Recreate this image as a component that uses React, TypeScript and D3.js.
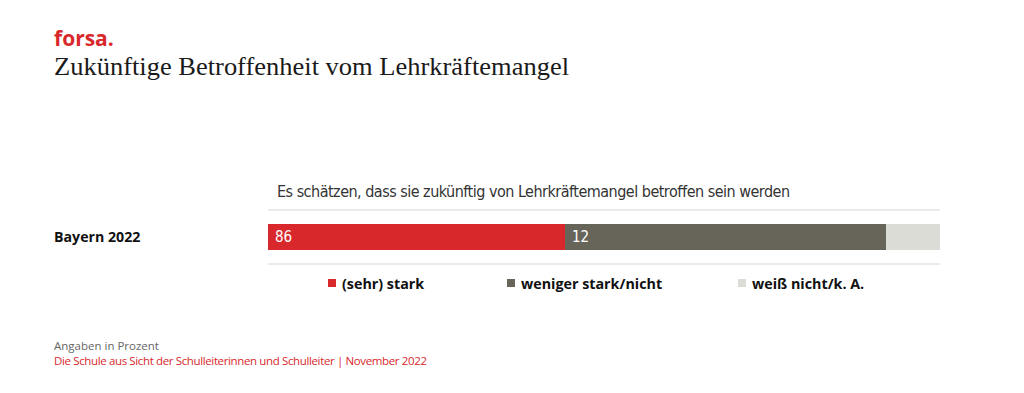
import { useEffect, useRef } from "react";
import * as d3 from "d3";

// widths as drawn in the picture (share of bar) and the printed labels
const categories = ["(sehr) stark", "weniger stark/nicht", "weiß nicht/k. A."];
const barShares = [44.2, 47.8, 8.0];
const barLabels = ["86", "12", ""];
const rowLabels = ["Bayern 2022"];
const colors = ["#d8282b", "#67645a", "#dcdcd7"];

function App() {
    const ref = useRef<SVGSVGElement>(null);

    useEffect(() => {
        const svg = d3.select(ref.current);
        svg.selectAll("*").remove();

        const sans = "'Open Sans', 'DejaVu Sans', sans-serif";

        // header
        svg.append("text")
            .attr("x", 54).attr("y", 46)
            .attr("fill", "#d8282b")
            .attr("font-family", sans)
            .attr("font-weight", 700)
            .attr("font-size", 21)
            .text("forsa.");
        svg.append("text")
            .attr("x", 54).attr("y", 75)
            .attr("fill", "#1a1a1a")
            .attr("font-family", "'Liberation Serif', 'DejaVu Serif', serif")
            .attr("font-size", 26)
            .attr("textLength", 515)
            .attr("lengthAdjust", "spacingAndGlyphs")
            .text("Zukünftige Betroffenheit vom Lehrkräftemangel");

        const x = d3.scaleLinear()
            .domain([0, d3.sum(barShares)])
            .range([268, 940]);
        const y = d3.scaleBand()
            .domain(rowLabels)
            .range([224, 250]);

        svg.append("text")
            .attr("x", 277).attr("y", 197)
            .attr("fill", "#333")
            .attr("font-family", "'Liberation Sans Narrow', 'DejaVu Sans Condensed', sans-serif")
            .attr("font-size", 16)
            .attr("textLength", 513)
            .text("Es schätzen, dass sie zukünftig von Lehrkräftemangel betroffen sein werden");

        [210, 264].forEach(ly => {
            svg.append("line")
                .attr("x1", x.range()[0]).attr("x2", x.range()[1])
                .attr("y1", ly).attr("y2", ly)
                .attr("stroke", "#d6d6d6");
        });

        // stacked segments
        const starts = d3.cumsum([0, ...barShares]);
        const row = rowLabels[0];
        const seg = svg.append("g")
            .selectAll("g")
            .data(barShares)
            .join("g");
        seg.append("rect")
            .attr("x", (d, i) => x(starts[i]))
            .attr("y", y(row)!)
            .attr("width", (d, i) => x(starts[i] + d) - x(starts[i]))
            .attr("height", y.bandwidth())
            .attr("fill", (d, i) => colors[i]);
        seg.append("text")
            .attr("x", (d, i) => x(starts[i]) + 7)
            .attr("y", y(row)! + y.bandwidth() / 2 + 5)
            .attr("fill", "#fff")
            .attr("font-family", "'Liberation Sans Narrow', 'DejaVu Sans Condensed', sans-serif")
            .attr("font-size", 15)
            .text((d, i) => barLabels[i]);

        svg.append("text")
            .attr("x", 54).attr("y", y(row)! + y.bandwidth() / 2 + 5)
            .attr("fill", "#111")
            .attr("font-family", sans)
            .attr("font-weight", 700)
            .attr("font-size", 14.2)
            .text(row);

        // legend
        const legendX = [328, 507, 738];
        const lg = svg.append("g")
            .selectAll("g")
            .data(categories)
            .join("g")
            .attr("transform", (d, i) => `translate(${legendX[i]},284)`);
        lg.append("rect")
            .attr("x", 0).attr("y", -5)
            .attr("width", 8).attr("height", 8)
            .attr("fill", (d, i) => colors[i]);
        lg.append("text")
            .attr("x", 14).attr("y", 5)
            .attr("fill", "#111")
            .attr("font-family", sans)
            .attr("font-weight", 700)
            .attr("font-size", 14.3)
            .text(d => d);

        // footer
        svg.append("text")
            .attr("x", 54).attr("y", 350)
            .attr("fill", "#666")
            .attr("font-family", sans)
            .attr("font-size", 11.5)
            .text("Angaben in Prozent");
        svg.append("text")
            .attr("x", 54).attr("y", 365)
            .attr("fill", "#d8282b")
            .attr("font-family", sans)
            .attr("font-size", 11.5)
            .attr("textLength", 373)
            .text("Die Schule aus Sicht der Schulleiterinnen und Schulleiter | November 2022");
    }, []);

    return (
        <svg ref={ref} width={1024} height={393}
            style={{ position: "absolute", left: 0, top: 0, background: "#fff" }} />
    );
}

export default App;
